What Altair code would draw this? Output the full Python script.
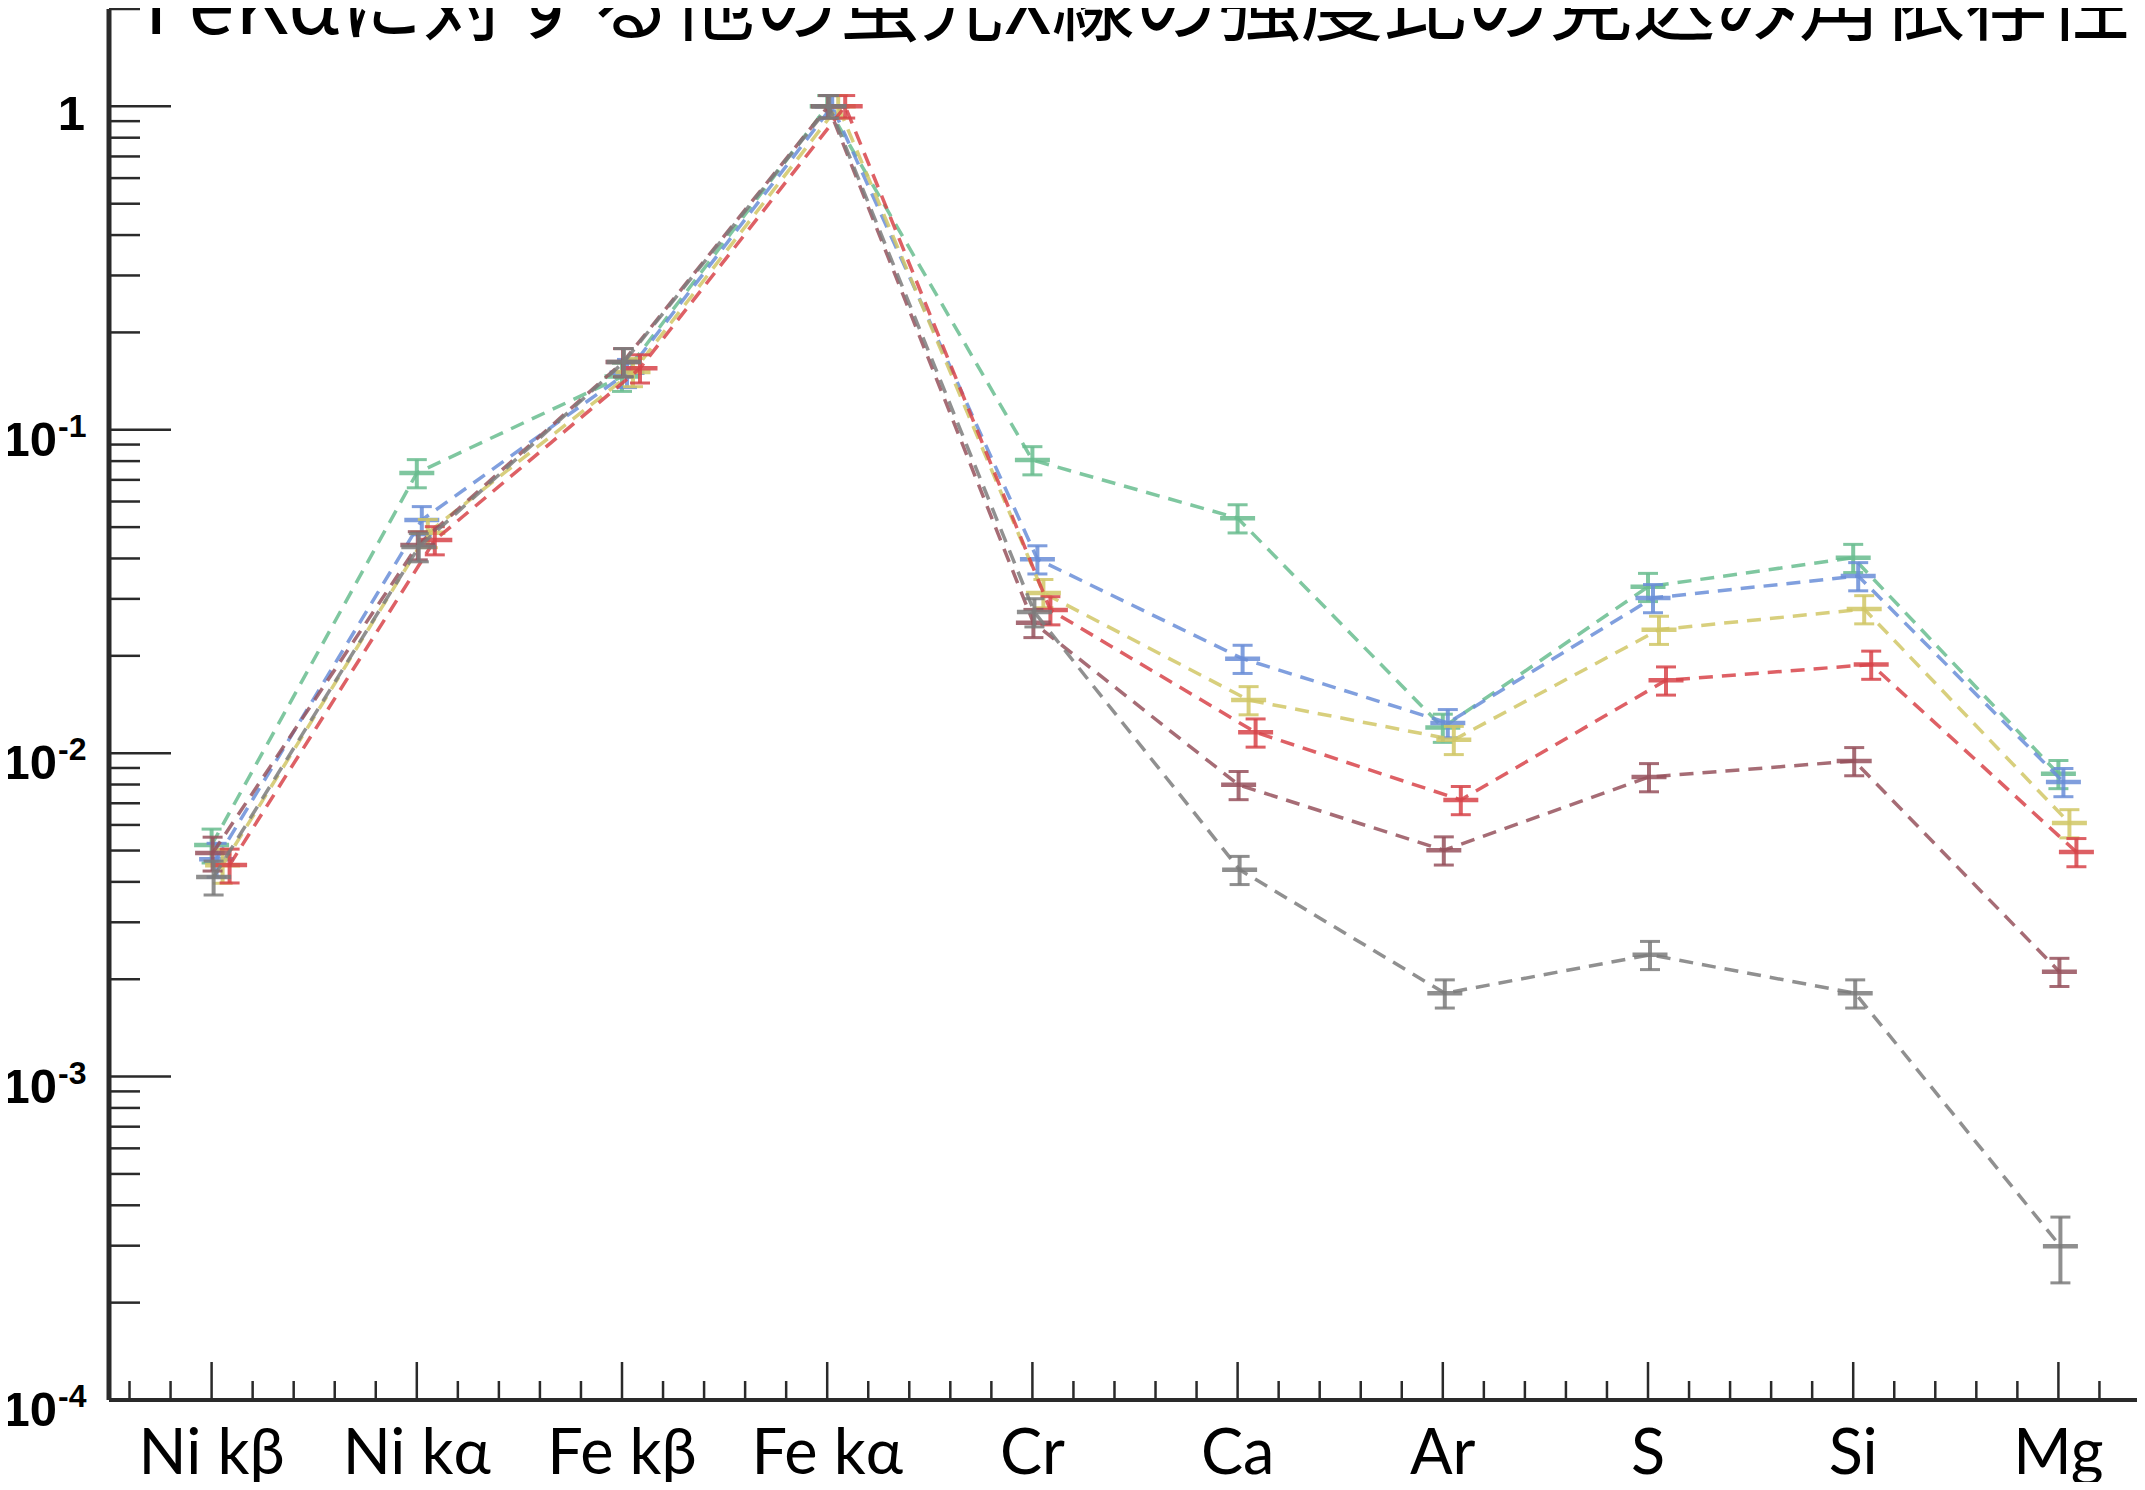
import altair as alt
import numpy as np
import pandas as pd

# ---------------- data ----------------
title_text = "FeKαに対する他の蛍光X線の強度比の見込み角依存性"

categories = ["Ni kβ", "Ni kα", "Fe kβ", "Fe kα", "Cr", "Ca", "Ar", "S", "Si", "Mg"]

series_names = ["s1", "s2", "s3", "s4", "s5", "s6"]
series_colors = ["#69bd8f", "#6a8ed8", "#d1c766", "#d8444a", "#97525d", "#7c7c7c"]
series_xshift = [0, 5, 11, 18, 1, 2]  # small horizontal offsets in px

val_s1 = [0.0052, 0.0735, 0.146, 1.0, 0.0806, 0.0533, 0.0120, 0.0327, 0.0402, 0.00863]
val_s2 = [0.0047, 0.0526, 0.150, 1.0, 0.0398, 0.0196, 0.0124, 0.0302, 0.0353, 0.00815]
val_s3 = [0.0045, 0.0480, 0.151, 1.0, 0.0313, 0.0146, 0.0110, 0.0241, 0.0279, 0.00608]
val_s4 = [0.00451, 0.0456, 0.155, 1.0, 0.0277, 0.0116, 0.00717, 0.0168, 0.0188, 0.00495]
val_s5 = [0.00491, 0.0440, 0.162, 1.0, 0.0253, 0.00798, 0.00501, 0.00844, 0.00946, 0.00211]
val_s6 = [0.00414, 0.0434, 0.162, 1.0, 0.0273, 0.00436, 0.00181, 0.00238, 0.00181, 0.000299]

rel_err_s1 = [0.12, 0.10, 0.10, 0.08, 0.10, 0.10, 0.10, 0.10, 0.10, 0.10]
rel_err_s2 = [0.12, 0.10, 0.10, 0.08, 0.10, 0.10, 0.10, 0.10, 0.10, 0.10]
rel_err_s3 = [0.12, 0.10, 0.10, 0.08, 0.10, 0.10, 0.10, 0.10, 0.10, 0.10]
rel_err_s4 = [0.12, 0.10, 0.10, 0.08, 0.10, 0.10, 0.10, 0.10, 0.10, 0.10]
rel_err_s5 = [0.12, 0.10, 0.10, 0.08, 0.10, 0.10, 0.10, 0.10, 0.10, 0.10]
rel_err_s6 = [0.12, 0.10, 0.10, 0.08, 0.10, 0.10, 0.10, 0.10, 0.10, 0.23]

values = [val_s1, val_s2, val_s3, val_s4, val_s5, val_s6]
rel_errs = [rel_err_s1, rel_err_s2, rel_err_s3, rel_err_s4, rel_err_s5, rel_err_s6]

ytick_major = [1e-4, 1e-3, 1e-2, 1e-1]
ylab_exp = ["-4", "-3", "-2", "-1"]
ytick_one = [1.0]

# ---------------- layout ----------------
W, H = 2028, 1391
xscale = alt.Scale(domain=[-0.5, 9.383], nice=False, zero=False)
yscale = alt.Scale(type="log", domain=[1e-4, 2], nice=False)
AX = "#2a2a2a"
YFONT = "Liberation Sans"


def X(f):
    return alt.X(f"{f}:Q", scale=xscale, axis=None)


def Y(f):
    return alt.Y(f"{f}:Q", scale=yscale, axis=None)


dummy = pd.DataFrame({"a": [0]})
layers = []

# axis lines
layers.append(alt.Chart(dummy).mark_rule(color=AX, strokeWidth=5).encode(
    x=alt.value(0), y=alt.value(0), y2=alt.value(H)))
layers.append(alt.Chart(dummy).mark_rule(color=AX, strokeWidth=4).encode(
    x=alt.value(0), x2=alt.value(W), y=alt.value(H)))

# y ticks (inside)
y_minor = [k * 10.0 ** e for e in range(-4, 1) for k in range(2, 10) if k * 10.0 ** e <= 2.0001]
layers.append(alt.Chart(pd.DataFrame({"t": ytick_major + ytick_one})).mark_rule(
    color=AX, strokeWidth=2.5).encode(y=Y("t"), x=alt.value(0), x2=alt.value(62)))
layers.append(alt.Chart(pd.DataFrame({"t": y_minor})).mark_rule(
    color=AX, strokeWidth=2.5).encode(y=Y("t"), x=alt.value(0), x2=alt.value(31)))

# x ticks (inside)
x_major = list(range(len(categories)))
x_minor = [round(v, 1) for v in np.arange(-0.4, 9.3, 0.2) if abs(v - round(v)) > 1e-6]
layers.append(alt.Chart(pd.DataFrame({"t": x_major})).mark_rule(
    color=AX, strokeWidth=2.5).encode(x=X("t"), y=alt.value(H), y2=alt.value(H - 38)))
layers.append(alt.Chart(pd.DataFrame({"t": x_minor})).mark_rule(
    color=AX, strokeWidth=2.5).encode(x=X("t"), y=alt.value(H), y2=alt.value(H - 19)))

# x labels
layers.append(alt.Chart(pd.DataFrame({"t": x_major, "lab": categories})).mark_text(
    font="Lato", fontSize=63, align="center", baseline="alphabetic", color="black").encode(
    x=X("t"), y=alt.value(H + 74), text="lab:N"))

# y labels
layers.append(alt.Chart(pd.DataFrame({"t": ytick_major, "b": ["10"] * 4})).mark_text(
    font=YFONT, fontWeight="bold", fontSize=49, align="right",
    baseline="alphabetic", dy=26, color="black").encode(
    y=Y("t"), x=alt.value(-52), text="b:N"))
layers.append(alt.Chart(pd.DataFrame({"t": ytick_major, "e": ylab_exp})).mark_text(
    font=YFONT, fontWeight="bold", fontSize=32, align="left",
    baseline="alphabetic", dy=7, color="black").encode(
    y=Y("t"), x=alt.value(-51), text="e:N"))
layers.append(alt.Chart(pd.DataFrame({"t": ytick_one, "b": ["1"]})).mark_text(
    font=YFONT, fontWeight="bold", fontSize=49, align="right",
    baseline="alphabetic", dy=24, color="black").encode(
    y=Y("t"), x=alt.value(-24), text="b:N"))

# series
for name, col, off, vals, errs in zip(series_names, series_colors, series_xshift, values, rel_errs):
    df = pd.DataFrame({
        "idx": list(range(len(categories))),
        "v": vals,
        "lo": [v * (1 - e) for v, e in zip(vals, errs)],
        "hi": [v * (1 + e) for v, e in zip(vals, errs)],
    })
    base = alt.Chart(df)
    layers.append(base.mark_line(color=col, strokeWidth=3.5, strokeDash=[14, 9],
                                 opacity=0.85, xOffset=off).encode(x=X("idx"), y=Y("v")))
    layers.append(base.mark_rule(color=col, strokeWidth=4, opacity=0.85, xOffset=off).encode(
        x=X("idx"), y=Y("lo"), y2=alt.Y2("hi:Q")))
    for fld in ["lo", "hi"]:
        layers.append(base.mark_point(shape="M-1,0L1,0", size=400, filled=False, color=col,
                                      strokeWidth=3, opacity=0.85, xOffset=off).encode(
            x=X("idx"), y=Y(fld)))
    layers.append(base.mark_point(shape="M-1,0L1,0", size=1225, filled=False, color=col,
                                  strokeWidth=4.5, opacity=0.85, xOffset=off).encode(
        x=X("idx"), y=Y("v")))

# title (partially cut off at the top, as in the original)
layers.append(alt.Chart(pd.DataFrame({"t": [title_text]})).mark_text(
    font="Noto Sans CJK JP", fontSize=83, fontWeight="normal", align="left",
    baseline="alphabetic", color="black").encode(
    x=alt.value(35), y=alt.value(25), text="t:N"))

chart = alt.layer(*layers).properties(
    width=W, height=H,
    padding={"left": 101, "top": 1, "right": 0, "bottom": 82},
    autosize=alt.AutoSizeParams(type="none"),
).configure_view(stroke=None)

chart.save("out.html", embed_options={"renderer": "svg", "actions": False})
